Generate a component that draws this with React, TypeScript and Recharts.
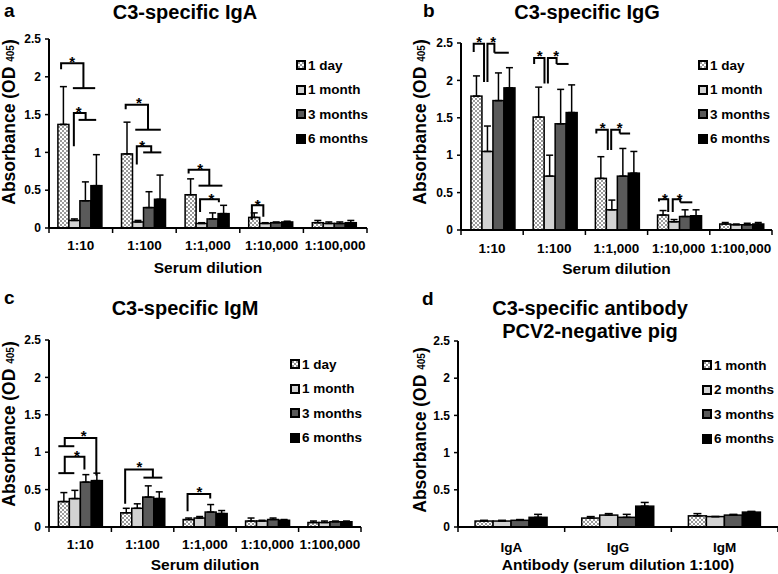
import React from 'react';
import { BarChart, Bar, XAxis, YAxis, ErrorBar } from 'recharts';

const FONT = '"Liberation Sans", Arial, Helvetica, sans-serif';

const dilutions = ['1:10', '1:100', '1:1,000', '1:10,000', '1:100,000'];
const antibodies = ['IgA', 'IgG', 'IgM'];
const agesPositive = ['1 day', '1 month', '3 months', '6 months'];
const agesNegative = ['1 month', '2 months', '3 months', '6 months'];
const yTicks = [0, 0.5, 1, 1.5, 2, 2.5];

// a: C3-specific IgA (mean, upper error)
const igaDay1 = [1.37, 0.98, 0.44, 0.14, 0.07];
const igaMonth1 = [0.1, 0.08, 0.06, 0.06, 0.06];
const igaMonth3 = [0.36, 0.27, 0.12, 0.07, 0.06];
const igaMonth6 = [0.56, 0.38, 0.19, 0.08, 0.07];
const igaDay1Err = [0.5, 0.42, 0.21, 0.06, 0.03];
const igaMonth1Err = [0.02, 0.02, 0.01, 0.01, 0.02];
const igaMonth3Err = [0.25, 0.21, 0.08, 0.01, 0.02];
const igaMonth6Err = [0.41, 0.32, 0.11, 0.01, 0.03];

// b: C3-specific IgG
const iggDay1 = [1.79, 1.51, 0.69, 0.2, 0.08];
const iggMonth1 = [1.05, 0.72, 0.27, 0.11, 0.07];
const iggMonth3 = [1.73, 1.42, 0.72, 0.18, 0.07];
const iggMonth6 = [1.9, 1.57, 0.76, 0.19, 0.08];
const iggDay1Err = [0.27, 0.4, 0.29, 0.06, 0.02];
const iggMonth1Err = [0.34, 0.28, 0.13, 0.03, 0.01];
const iggMonth3Err = [0.37, 0.46, 0.37, 0.09, 0.02];
const iggMonth6Err = [0.27, 0.37, 0.29, 0.08, 0.02];

// c: C3-specific IgM
const igmDay1 = [0.34, 0.19, 0.1, 0.08, 0.06];
const igmMonth1 = [0.38, 0.25, 0.12, 0.08, 0.06];
const igmMonth3 = [0.6, 0.4, 0.2, 0.1, 0.07];
const igmMonth6 = [0.62, 0.38, 0.18, 0.09, 0.07];
const igmDay1Err = [0.12, 0.06, 0.02, 0.04, 0.02];
const igmMonth1Err = [0.11, 0.06, 0.02, 0.01, 0.02];
const igmMonth3Err = [0.1, 0.15, 0.1, 0.02, 0.01];
const igmMonth6Err = [0.1, 0.09, 0.04, 0.01, 0.01];

// d: PCV2-negative pig, serum 1:100
const negMonth1 = [0.08, 0.12, 0.15];
const negMonth2 = [0.08, 0.16, 0.14];
const negMonth3 = [0.09, 0.13, 0.16];
const negMonth6 = [0.13, 0.28, 0.2];
const negMonth1Err = [0.01, 0.02, 0.03];
const negMonth2Err = [0.01, 0.02, 0.0];
const negMonth3Err = [0.01, 0.04, 0.01];
const negMonth6Err = [0.04, 0.05, 0.01];

// significance brackets: x in bar slots from the group's first bar, y in absorbance
type Bracket = { cat: string; path: number[][]; seg?: number[][]; star: number[] };

const igaBrackets: Bracket[] = [
  { cat: '1:10', path: [[0.29, 2.1], [0.29, 2.18], [2.32, 2.18], [2.32, 1.85]], seg: [[1.36, 1.85], [3.39, 1.85]], star: [1.3, 2.24] },
  { cat: '1:10', path: [[1.45, 1.08], [1.45, 1.52], [2.52, 1.52], [2.52, 1.43]], seg: [[1.88, 1.43], [3.48, 1.43]], star: [1.88, 1.57] },
  { cat: '1:100', path: [[0.38, 1.57], [0.38, 1.63], [2.41, 1.63], [2.41, 1.3]], seg: [[1.25, 1.3], [3.57, 1.3]], star: [1.59, 1.69] },
  { cat: '1:100', path: [[1.39, 0.84], [1.39, 1.08], [2.7, 1.08], [2.7, 1.0]], seg: [[1.97, 1.0], [3.62, 1.0]], star: [1.88, 1.13] },
  { cat: '1:1,000', path: [[0.32, 0.72], [0.32, 0.77], [2.2, 0.77], [2.2, 0.56]], seg: [[1.22, 0.56], [3.39, 0.56]], star: [1.36, 0.82] },
  { cat: '1:1,000', path: [[1.36, 0.21], [1.36, 0.38], [3.07, 0.38], [3.07, 0.34]], star: [2.4, 0.42] },
  { cat: '1:10,000', path: [[0.29, 0.11], [0.29, 0.3], [1.33, 0.3], [1.33, 0.15]], star: [0.81, 0.35] },
];

const iggBrackets: Bracket[] = [
  { cat: '1:10', path: [[0.25, 2.38], [0.25, 2.49], [1.19, 2.49], [1.19, 1.98]], star: [0.75, 2.56] },
  { cat: '1:10', path: [[1.5, 1.98], [1.5, 2.49], [2.13, 2.49], [2.13, 2.37]], seg: [[2.13, 2.37], [3.44, 2.37]], star: [2.03, 2.56] },
  { cat: '1:100', path: [[0.09, 2.22], [0.09, 2.3], [1.03, 2.3], [1.03, 1.96]], star: [0.6, 2.37] },
  { cat: '1:100', path: [[1.34, 1.96], [1.34, 2.3], [2.13, 2.3], [2.13, 2.22]], seg: [[2.13, 2.22], [3.22, 2.22]], star: [2.1, 2.37] },
  { cat: '1:1,000', path: [[0.09, 1.29], [0.09, 1.34], [1.13, 1.34], [1.13, 1.07]], star: [0.66, 1.41] },
  { cat: '1:1,000', path: [[1.44, 1.07], [1.44, 1.34], [2.22, 1.34], [2.22, 1.29]], seg: [[2.22, 1.29], [3.16, 1.29]], star: [2.2, 1.41] },
  { cat: '1:10,000', path: [[0.13, 0.38], [0.13, 0.41], [0.97, 0.41], [0.97, 0.24]], star: [0.66, 0.46] },
  { cat: '1:10,000', path: [[1.38, 0.24], [1.38, 0.41], [2.06, 0.41], [2.06, 0.37]], seg: [[2.06, 0.37], [3.16, 0.37]], star: [2.0, 0.46] },
];

const igmBrackets: Bracket[] = [
  { cat: '1:10', path: [[0.58, 1.08], [0.58, 1.19], [3.45, 1.19], [3.45, 0.69]], seg: [[0, 1.08], [1.45, 1.08]], star: [2.31, 1.26] },
  { cat: '1:10', path: [[0.58, 0.72], [0.58, 0.94], [2.37, 0.94], [2.37, 0.77]], seg: [[0, 0.72], [1.45, 0.72]], star: [1.69, 0.99] },
  { cat: '1:100', path: [[0.4, 0.31], [0.4, 0.77], [2.92, 0.77], [2.92, 0.66]], seg: [[2.06, 0.66], [3.78, 0.66]], star: [1.69, 0.84] },
  { cat: '1:1,000', path: [[0.4, 0.21], [0.4, 0.44], [2.46, 0.44], [2.46, 0.38]], star: [1.48, 0.51] },
];

const FILLS = ['url(#stipple)', '#d2d2d2', '#5a5a5a', '#000000'];

const buildRows = (cats: string[], means: number[][], errs: number[][]) =>
  cats.map((cat, i) => {
    const row: any = { cat };
    means.forEach((m, k) => {
      row['s' + k] = m[i];
      row['e' + k] = [0, errs[k][i]];
    });
    return row;
  });

const igaRows = buildRows(dilutions, [igaDay1, igaMonth1, igaMonth3, igaMonth6], [igaDay1Err, igaMonth1Err, igaMonth3Err, igaMonth6Err]);
const iggRows = buildRows(dilutions, [iggDay1, iggMonth1, iggMonth3, iggMonth6], [iggDay1Err, iggMonth1Err, iggMonth3Err, iggMonth6Err]);
const igmRows = buildRows(dilutions, [igmDay1, igmMonth1, igmMonth3, igmMonth6], [igmDay1Err, igmMonth1Err, igmMonth3Err, igmMonth6Err]);
const negRows = buildRows(antibodies, [negMonth1, negMonth2, negMonth3, negMonth6], [negMonth1Err, negMonth2Err, negMonth3Err, negMonth6Err]);

// last series draws its bar plus the brackets of its group
const bracketShape = (brackets: Bracket[]) => (props: any) => {
  const { x, y, width, height, payload, fill } = props;
  const value = payload.s3;
  const unit = height / value;
  const base = y + height;
  const gx = x - 3 * width;
  const px = (s: number) => gx + s * width;
  const py = (v: number) => base - v * unit;
  const mine = brackets.filter((b) => b.cat === payload.cat);
  return (
    <g>
      <rect x={x} y={y} width={width} height={height} fill={fill} stroke="#000" strokeWidth={1.5} />
      {mine.map((b, i) => (
        <g key={i}>
          <polyline
            points={b.path.map(([s, v]) => `${px(s)},${py(v)}`).join(' ')}
            fill="none"
            stroke="#000"
            strokeWidth={2}
          />
          {b.seg && (
            <line x1={px(b.seg[0][0])} y1={py(b.seg[0][1])} x2={px(b.seg[1][0])} y2={py(b.seg[1][1])} stroke="#000" strokeWidth={2} />
          )}
          <text x={px(b.star[0])} y={py(b.star[1]) + 8} textAnchor="middle" fontSize={15} fontWeight="bold" fontFamily={FONT}>
            *
          </text>
        </g>
      ))}
    </g>
  );
};

const plainShape = (props: any) => {
  const { x, y, width, height, fill } = props;
  return <rect x={x} y={y} width={width} height={height} fill={fill} stroke="#000" strokeWidth={1.5} />;
};

const CatTick = (props: any) => {
  const { x, y, payload, index, visibleTicksCount, dy, band } = props;
  return (
    <g>
      <line x1={x - band / 2} x2={x - band / 2} y1={y} y2={y + 5} stroke="#000" strokeWidth={1.5} />
      {index === visibleTicksCount - 1 && (
        <line x1={x + band / 2} x2={x + band / 2} y1={y} y2={y + 5} stroke="#000" strokeWidth={1.5} />
      )}
      <text x={x} y={y + dy} textAnchor="middle" fontSize={13.5} fontWeight="bold" fontFamily={FONT} fill="#000">
        {payload.value}
      </text>
    </g>
  );
};

type PanelProps = {
  left: number;
  top: number;
  letter: string;
  letterX: number;
  letterY: number;
  title: string[];
  titleX: number;
  titleY: number[];
  yLabelX: number;
  yLabelY: number;
  xLabel: string;
  xTickDy: number;
  xLabelDy: number;
  rows: any[];
  names: string[];
  brackets: Bracket[];
  yWidth: number;
  mRight: number;
  mTop: number;
  xHeight: number;
  gap: string;
  cap: number;
  legendX: number;
  legendY: number;
};

const W = 389;
const H = 287;

const Panel = (p: PanelProps) => {
  const plotLeft = p.yWidth;
  const plotRight = W - p.mRight;
  const plotBottom = H - p.xHeight;
  const cx = (plotLeft + plotRight) / 2;
  const band = (plotRight - plotLeft) / p.rows.length;

  return (
    <div style={{ position: 'absolute', left: p.left, top: p.top, width: W, height: H }}>
      <BarChart
        width={W}
        height={H}
        data={p.rows}
        margin={{ top: p.mTop, right: p.mRight, left: 0, bottom: 0 }}
        barGap={0}
        barCategoryGap={p.gap}
      >
        <XAxis
          dataKey="cat"
          height={p.xHeight}
          axisLine={{ stroke: '#000', strokeWidth: 2 }}
          tickLine={false}
          tickSize={0}
          tickMargin={0}
          interval={0}
          tick={(t: any) => <CatTick {...t} dy={p.xTickDy} band={band} />}
        />
        <YAxis
          width={p.yWidth}
          domain={[0, 2.5]}
          ticks={yTicks}
          interval={0}
          axisLine={{ stroke: '#000', strokeWidth: 2 }}
          tickLine={{ stroke: '#000', strokeWidth: 1.5 }}
          tickSize={4}
          tickMargin={4}
          tick={{ fill: '#000', fontSize: 12, fontWeight: 'bold', fontFamily: FONT }}
        />
        {p.names.map((n, k) => (
          <Bar
            key={n}
            dataKey={'s' + k}
            name={n}
            fill={FILLS[k]}
            isAnimationActive={false}
            shape={k === 3 ? bracketShape(p.brackets) : plainShape}
          >
            <ErrorBar dataKey={'e' + k} width={p.cap} stroke="#000" strokeWidth={1.5} direction="y" />
          </Bar>
        ))}
      </BarChart>
      <svg
        width={W}
        height={H}
        style={{ position: 'absolute', left: 0, top: 0, pointerEvents: 'none', fontFamily: FONT, fontWeight: 'bold' }}
      >
        <text x={p.letterX} y={p.letterY} fontSize={19}>
          {p.letter}
        </text>
        {p.title.map((t, i) => (
          <text key={t} x={p.titleX} y={p.titleY[i]} fontSize={20} textAnchor="middle">
            {t}
          </text>
        ))}
        <text transform={`translate(${p.yLabelX},${p.yLabelY}) rotate(-90)`} fontSize={17.5} textAnchor="middle">
          Absorbance (OD <tspan fontSize={10} dy={-1}>405</tspan>
          <tspan dy={1}>)</tspan>
        </text>
        <text x={cx} y={plotBottom + p.xLabelDy} fontSize={15.5} textAnchor="middle">
          {p.xLabel}
        </text>
      </svg>
      <div
        style={{
          position: 'absolute',
          left: p.legendX,
          top: p.legendY - 12.25,
          fontFamily: FONT,
          fontWeight: 'bold',
          fontSize: 13.5,
          color: '#000',
        }}
      >
        {p.names.map((n, i) => (
          <div key={n} style={{ height: 24.5, display: 'flex', alignItems: 'center', whiteSpace: 'nowrap' }}>
            <svg width={10} height={10} style={{ marginRight: 2 }}>
              <rect x={1} y={1} width={8} height={8} fill={FILLS[i]} stroke="#000" strokeWidth={2} />
            </svg>
            {n}
          </div>
        ))}
      </div>
    </div>
  );
};

export default function App() {
  return (
    <div style={{ position: 'absolute', left: 0, top: 0, width: 778, height: 574, background: '#fff', overflow: 'hidden' }}>
      <svg width={0} height={0} style={{ position: 'absolute' }}>
        <defs>
          <pattern id="stipple" width={4} height={4} patternUnits="userSpaceOnUse">
            <rect width={4} height={4} fill="#ffffff" />
            <rect x={0} y={0} width={2} height={2} fill="#9a9a9a" />
            <rect x={2} y={2} width={2} height={2} fill="#9a9a9a" />
          </pattern>
        </defs>
      </svg>
      <Panel
        left={0} top={0} letter="a" letterX={4} letterY={17}
        title={['C3-specific IgA']} titleX={185} titleY={[19]}
        yLabelX={15} yLabelY={122}
        xLabel="Serum dilution" xTickDy={22} xLabelDy={45}
        rows={igaRows} names={agesPositive} brackets={igaBrackets}
        yWidth={49} mRight={22} mTop={39} xHeight={59} gap="14%" cap={3.5}
        legendX={296} legendY={65}
      />
      <Panel
        left={389} top={0} letter="b" letterX={34} letterY={17}
        title={['C3-specific IgG']} titleX={198} titleY={[19]}
        yLabelX={37} yLabelY={122}
        xLabel="Serum dilution" xTickDy={23} xLabelDy={44}
        rows={iggRows} names={agesPositive} brackets={iggBrackets}
        yWidth={72} mRight={6} mTop={43} xHeight={57} gap="16%" cap={3.5}
        legendX={309} legendY={65}
      />
      <Panel
        left={0} top={287} letter="c" letterX={4} letterY={17}
        title={['C3-specific IgM']} titleX={185} titleY={[28]}
        yLabelX={15} yLabelY={137}
        xLabel="Serum dilution" xTickDy={22} xLabelDy={43}
        rows={igmRows} names={agesPositive} brackets={igmBrackets}
        yWidth={49} mRight={28} mTop={53} xHeight={47} gap="15%" cap={3.5}
        legendX={290} legendY={77}
      />
      <Panel
        left={389} top={287} letter="d" letterX={33} letterY={18}
        title={['C3-specific antibody', 'PCV2-negative pig']} titleX={201} titleY={[28, 51]}
        yLabelX={37} yLabelY={143}
        xLabel="Antibody (serum dilution 1:100)" xTickDy={25} xLabelDy={43}
        rows={negRows} names={agesNegative} brackets={[]}
        yWidth={69} mRight={0} mTop={54} xHeight={47} gap="16%" cap={4}
        legendX={313} legendY={78}
      />
    </div>
  );
}
